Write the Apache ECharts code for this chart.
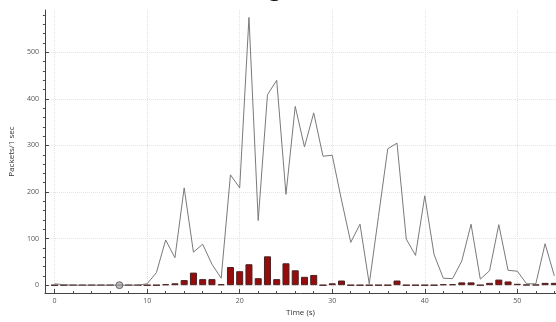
<!DOCTYPE html>
<html><head><meta charset="utf-8">
<script src="https://cdn.jsdelivr.net/npm/echarts@6/dist/echarts.min.js"></script>
<style>html,body{margin:0;padding:0;background:#fff}#c{width:556px;height:322px}</style>
</head><body><div id="c"></div><script>
const seconds = [0,1,2,3,4,5,6,7,8,9,10,11,12,13,14,15,16,17,18,19,20,21,22,23,24,25,26,27,28,29,30,31,32,33,34,35,36,37,38,39,40,41,42,43,44,45,46,47,48,49,50,51,52,53,54];
const allPackets = [3,1,0,0,0,0,0,0,0,0,3,27,97,59,209,71,88,45,15,237,209,575,139,409,440,195,384,297,370,277,279,183,92,131,3,148,293,305,99,64,192,66,15,14,52,131,13,31,130,32,30,3,3,89,20];
const filteredPackets = [0,0,0,0,0,0,0,0,0,0,0,0,2,4,11,27,13,13,2,39,30,45,15,62,13,47,32,18,22,0,4,10,0,0,0,0,0,10,0,0,0,0,2,2,6,6,0,5,12,8,3,1,1,5,5];
const markerPoints = [[7,0]];
const xTickValues = [0,10,20,30,40,50];
const yTickValues = [0,100,200,300,400,500];
const xMinorTickValues = [2,4,6,8,12,14,16,18,22,24,26,28,32,34,36,38,42,44,46,48,52,54];
const yMinorTickValues = [20,40,60,80,120,140,160,180,220,240,260,280,320,340,360,380,420,440,460,480,520,540,560,580];
const titleText = 'g';

const X_MIN = -1.05, X_MAX = 54.18, Y_MIN = -17, Y_MAX = 591;
const font = 'Open Sans';
const chart = echarts.init(document.getElementById('c'), null, {renderer: 'canvas'});
const axisColor = '#444';
const labelColor = '#555';
chart.setOption({
  animation: false,
  backgroundColor: '#fff',
  title: {text: titleText, left: 264, top: -29, textStyle: {fontFamily: 'DejaVu Serif', fontSize: 26, fontStyle: 'italic', fontWeight: 'normal', color: '#111'}},
  grid: {left: 44, right: 0, top: 10, bottom: 23, containLabel: false},
  xAxis: [{
    type: 'value', min: X_MIN, max: X_MAX,
    name: 'Time (s)', nameLocation: 'middle', nameGap: 13,
    nameTextStyle: {fontFamily: font, fontSize: 8, color: '#333'},
    axisLine: {show: true, onZero: false, lineStyle: {color: axisColor, width: 1}},
    axisTick: {show: true, inside: true, length: 4, customValues: xTickValues, lineStyle: {color: axisColor}},
    axisLabel: {customValues: xTickValues, fontFamily: font, fontSize: 7, color: labelColor, margin: 4},
    splitLine: {show: true, lineStyle: {color: '#e2e2e2', type: 'dotted', width: 1}}
  }, {
    type: 'value', min: X_MIN, max: X_MAX, position: 'bottom',
    axisLine: {show: false, onZero: false},
    axisTick: {show: true, inside: true, length: 2, customValues: xMinorTickValues, lineStyle: {color: axisColor}},
    axisLabel: {show: false},
    splitLine: {show: false}
  }],
  yAxis: [{
    type: 'value', min: Y_MIN, max: Y_MAX,
    name: 'Packets/1 sec', nameLocation: 'middle', nameGap: 22,
    nameTextStyle: {fontFamily: font, fontSize: 8, color: '#333'},
    axisLine: {show: true, onZero: false, lineStyle: {color: axisColor, width: 1}},
    axisTick: {show: true, inside: true, length: 4, customValues: yTickValues, lineStyle: {color: axisColor}},
    axisLabel: {customValues: yTickValues, fontFamily: font, fontSize: 7, color: labelColor, margin: 6},
    splitLine: {show: true, lineStyle: {color: '#e2e2e2', type: 'dotted', width: 1}}
  }, {
    type: 'value', min: Y_MIN, max: Y_MAX, position: 'left',
    axisLine: {show: false, onZero: false},
    axisTick: {show: true, inside: false, length: 2, customValues: yMinorTickValues, lineStyle: {color: axisColor}},
    axisLabel: {show: false},
    splitLine: {show: false}
  }],
  series: [{
    type: 'bar', xAxisIndex: 0, yAxisIndex: 0,
    data: seconds.map((t, i) => [t, filteredPackets[i]]),
    barWidth: 7,
    itemStyle: {color: '#960b0b', borderColor: '#4a2020', borderWidth: 1},
    z: 2
  }, {
    type: 'line', xAxisIndex: 0, yAxisIndex: 0,
    data: seconds.map((t, i) => [t, allPackets[i]]),
    showSymbol: false, symbol: 'none',
    lineStyle: {color: '#7a7a7a', width: 1},
    z: 3
  }, {
    type: 'scatter', xAxisIndex: 0, yAxisIndex: 0,
    data: markerPoints,
    symbol: 'circle', symbolSize: 7,
    itemStyle: {color: '#aaa', borderColor: '#555', borderWidth: 1},
    z: 4
  }]
});
</script></body></html>
